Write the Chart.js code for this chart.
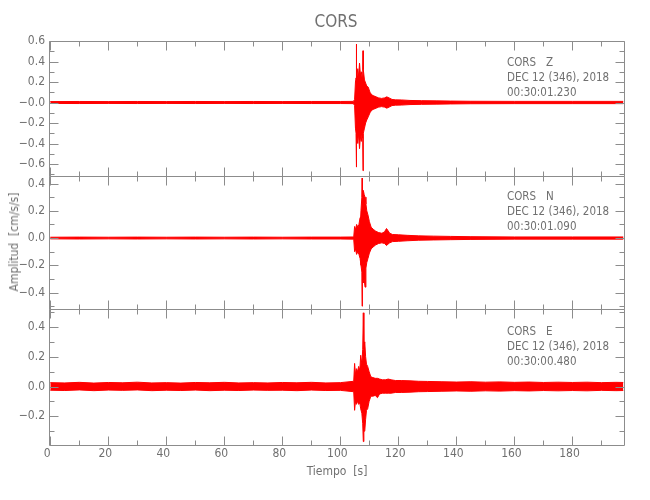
<!DOCTYPE html>
<html>
<head>
<meta charset="utf-8">
<script src="https://cdn.jsdelivr.net/npm/chart.js@4.4.1/dist/chart.umd.min.js"></script>
<style>
  html, body { margin: 0; padding: 0; background: #fff; }
  #wrap { position: relative; width: 650px; height: 500px; overflow: hidden; }
  #wrap canvas { position: absolute; left: 0; top: 0; }
  .t { position: absolute; color: #707070; font-family: 'Liberation Sans Narrow', 'DejaVu Sans Condensed', sans-serif; white-space: pre; line-height: 1; }
  .ann { font-size: 11.5px; line-height: 15px; }
</style>
</head>
<body>
<div id="wrap">
  <canvas id="c1" width="650" height="500"></canvas>
  <canvas id="c2" width="650" height="500"></canvas>
  <canvas id="c3" width="650" height="500"></canvas>
  <div class="t" style="left:0;top:13px;width:672px;text-align:center;font-size:17px;">CORS</div>
  <div class="t" style="left:14px;top:242px;font-size:12px;transform:translate(-50%,-50%) rotate(-90deg);">Amplitud  [cm/s/s]</div>
  <div class="t" style="left:0;top:465px;width:674px;text-align:center;font-size:12px;">Tiempo  [s]</div>
  <div class="t ann" style="left:507px;top:55px;">CORS   Z<br>DEC 12 (346), 2018<br>00:30:01.230</div>
  <div class="t ann" style="left:507px;top:189px;">CORS   N<br>DEC 12 (346), 2018<br>00:30:01.090</div>
  <div class="t ann" style="left:507px;top:324px;">CORS   E<br>DEC 12 (346), 2018<br>00:30:00.480</div>
</div>
<script>
// ---------- DATA ----------
const xTickVals   = [0, 20, 40, 60, 80, 100, 120, 140, 160, 180];
const xTickLabels = ['0', '20', '40', '60', '80', '100', '120', '140', '160', '180'];
const xMinorVals  = [10, 30, 50, 70, 90, 110, 130, 150, 170, 190];

const zTickVals   = [0.6, 0.4, 0.2, 0.0, -0.2, -0.4, -0.6];
const zTickLabels = ['0.6', '0.4', '0.2', '\u22120.0', '\u22120.2', '\u22120.4', '\u22120.6'];
const nTickVals   = [0.4, 0.2, 0.0, -0.2, -0.4];
const nTickLabels = ['0.4', '0.2', '0.0', '\u22120.2', '\u22120.4'];
const eTickVals   = [0.4, 0.2, 0.0, -0.2];
const eTickLabels = ['0.4', '0.2', '0.0', '\u22120.2'];

// Z component: time [s], upper and lower envelope [cm/s/s]
const zTime = [0, 10, 20, 30, 40, 50, 60, 70, 80, 90, 100, 104.5, 104.9, 105.2, 105.4, 105.5, 105.6, 106.0, 106.3, 106.6, 106.9, 107.2, 107.5, 107.7, 107.8, 107.9, 108.3, 108.7, 109.1, 109.6, 110.2, 110.8, 111.5, 112.3, 113.2, 114.2, 115.2, 116.0, 116.8, 117.8, 119, 121, 124, 128, 133, 138, 145, 160, 180, 197.6];
const zUpper = [0.009, 0.01, 0.009, 0.01, 0.009, 0.01, 0.009, 0.01, 0.009, 0.01, 0.01, 0.011, 0.03, 0.2, 0.24, 0.57, 0.22, 0.33, 0.25, 0.385, 0.27, 0.3, 0.24, 0.3, 0.505, 0.32, 0.22, 0.19, 0.16, 0.15, 0.1, 0.075, 0.065, 0.055, 0.045, 0.04, 0.045, 0.055, 0.045, 0.03, 0.026, 0.025, 0.02, 0.018, 0.016, 0.014, 0.012, 0.011, 0.011, 0.011];
const zLower = [-0.009, -0.01, -0.009, -0.01, -0.009, -0.01, -0.009, -0.01, -0.009, -0.01, -0.01, -0.011, -0.03, -0.25, -0.3, -0.63, -0.3, -0.4, -0.3, -0.45, -0.33, -0.38, -0.3, -0.35, -0.665, -0.3, -0.25, -0.2, -0.17, -0.14, -0.1, -0.075, -0.065, -0.055, -0.045, -0.04, -0.045, -0.055, -0.045, -0.03, -0.026, -0.025, -0.02, -0.018, -0.016, -0.014, -0.012, -0.011, -0.011, -0.011];

// N component
const nTime = [0, 10, 20, 30, 40, 50, 60, 70, 80, 90, 100, 104.6, 104.9, 105.2, 105.6, 106.0, 106.4, 106.8, 107.1, 107.4, 107.5, 107.6, 107.9, 108.2, 108.5, 108.8, 109.1, 109.5, 110.0, 110.6, 111.3, 112.2, 113.2, 114.3, 115.2, 115.9, 116.4, 117.0, 118, 120, 123, 127, 132, 138, 145, 160, 180, 197.6];
const nUpper = [0.006, 0.007, 0.006, 0.007, 0.006, 0.007, 0.006, 0.007, 0.006, 0.007, 0.007, 0.008, 0.085, 0.06, 0.1, 0.08, 0.1, 0.15, 0.2, 0.3, 0.44, 0.3, 0.35, 0.32, 0.3, 0.25, 0.2, 0.17, 0.12, 0.08, 0.065, 0.05, 0.04, 0.035, 0.045, 0.07, 0.055, 0.035, 0.026, 0.024, 0.02, 0.016, 0.014, 0.012, 0.01, 0.008, 0.008, 0.008];
const nLower = [-0.006, -0.007, -0.006, -0.007, -0.006, -0.007, -0.006, -0.007, -0.006, -0.007, -0.007, -0.008, -0.1, -0.08, -0.12, -0.1, -0.12, -0.15, -0.2, -0.25, -0.5, -0.3, -0.33, -0.3, -0.36, -0.22, -0.18, -0.15, -0.11, -0.08, -0.065, -0.05, -0.04, -0.035, -0.04, -0.055, -0.045, -0.035, -0.026, -0.024, -0.02, -0.016, -0.014, -0.012, -0.01, -0.008, -0.008, -0.008];

// E component
const eTime = [0, 5, 10, 15, 20, 25, 30, 35, 40, 45, 50, 55, 60, 65, 70, 75, 80, 85, 90, 95, 100, 104.6, 104.9, 105.2, 105.5, 105.9, 106.3, 106.7, 107.0, 107.4, 107.7, 107.9, 108.1, 108.4, 108.7, 109.0, 109.4, 109.9, 110.5, 111.2, 112.0, 112.8, 113.5, 114.5, 115.5, 116.5, 117.5, 119, 121, 124, 127, 130, 135, 140, 145, 150, 155, 160, 165, 170, 175, 180, 185, 190, 195, 197.6];
const eUpper = [0.026, 0.024, 0.028, 0.023, 0.027, 0.025, 0.029, 0.024, 0.026, 0.023, 0.027, 0.025, 0.028, 0.024, 0.026, 0.024, 0.027, 0.025, 0.028, 0.024, 0.026, 0.035, 0.155, 0.08, 0.12, 0.1, 0.135, 0.11, 0.21, 0.15, 0.25, 0.495, 0.25, 0.3, 0.2, 0.15, 0.135, 0.1, 0.065, 0.06, 0.055, 0.055, 0.05, 0.045, 0.045, 0.05, 0.045, 0.04, 0.04, 0.038, 0.035, 0.034, 0.032, 0.03, 0.032, 0.029, 0.031, 0.028, 0.03, 0.027, 0.029, 0.027, 0.029, 0.026, 0.028, 0.027];
const eLower = [-0.025, -0.027, -0.023, -0.028, -0.024, -0.026, -0.023, -0.028, -0.025, -0.027, -0.024, -0.028, -0.025, -0.027, -0.024, -0.026, -0.025, -0.028, -0.024, -0.027, -0.026, -0.035, -0.16, -0.1, -0.12, -0.1, -0.12, -0.11, -0.15, -0.18, -0.25, -0.37, -0.3, -0.3, -0.22, -0.16, -0.15, -0.1, -0.065, -0.065, -0.06, -0.075, -0.05, -0.045, -0.045, -0.045, -0.045, -0.04, -0.04, -0.038, -0.035, -0.034, -0.032, -0.03, -0.032, -0.029, -0.031, -0.028, -0.03, -0.027, -0.029, -0.027, -0.029, -0.026, -0.028, -0.027];

// ---------- CHART BUILDING ----------
const FONT = "'Liberation Sans Narrow', 'DejaVu Sans Condensed', sans-serif";
const TXT = '#707070';
const LINE = '#8c8c8c';
const RED = '#ff0000';
const X_MIN = -0.45, X_MAX = 197.6;

function pts(t, v) { return t.map((x, i) => ({ x: x, y: v[i] })); }

const framePlugin = {
  id: 'frame',
  afterDraw(chart) {
    const ctx = chart.ctx, a = chart.chartArea;
    const xs = chart.scales.x, ys = chart.scales.y;
    const yMaj = chart.options.plugins.frame.yMajor;
    const yMin = chart.options.plugins.frame.yMinor;
    ctx.save();
    ctx.strokeStyle = LINE;
    ctx.lineWidth = 1;
    const L = Math.round(a.left) + 0.5, R = Math.round(a.right) + 0.5;
    const T = Math.round(a.top) + 0.5, B = Math.round(a.bottom) + 0.5;
    ctx.beginPath();
    ctx.rect(L, T, R - L, B - T);
    ctx.stroke();
    ctx.beginPath();
    const xt = (v, len) => {
      const p = Math.round(xs.getPixelForValue(v)) + 0.5;
      ctx.moveTo(p, T); ctx.lineTo(p, T + len);
      ctx.moveTo(p, B); ctx.lineTo(p, B - len);
    };
    xTickVals.forEach(v => xt(v, 9));
    xMinorVals.forEach(v => xt(v, 5));
    const yt = (v, len) => {
      const p = Math.round(ys.getPixelForValue(v)) + 0.5;
      ctx.moveTo(L, p); ctx.lineTo(L + len, p);
      ctx.moveTo(R, p); ctx.lineTo(R - len, p);
    };
    yMaj.forEach(v => yt(v, 9));
    yMin.forEach(v => yt(v, 5));
    ctx.stroke();
    ctx.restore();
  }
};

function makeChart(id, time, up, lo, yMin, yMax, tickVals, tickLabels, minorVals, top, bottom, showX) {
  const cfg = {
    type: 'line',
    data: {
      datasets: [
        { data: pts(time, up), borderColor: RED, borderWidth: 1, pointRadius: 0, fill: false, tension: 0 },
        { data: pts(time, lo), borderColor: RED, borderWidth: 1, pointRadius: 0, fill: '-1', backgroundColor: RED, tension: 0 }
      ]
    },
    options: {
      responsive: false,
      animation: false,
      events: [],
      layout: { padding: { left: 0, right: 26.5, top: top, bottom: showX ? 500 - bottom - 20 : 500 - bottom } },
      plugins: {
        legend: { display: false },
        tooltip: { enabled: false },
        frame: { yMajor: tickVals, yMinor: minorVals }
      },
      scales: {
        x: {
          type: 'linear', min: X_MIN, max: X_MAX,
          display: showX,
          grid: { display: false, drawTicks: false },
          border: { display: false },
          afterFit: s => { s.height = showX ? 20 : 0; },
          afterBuildTicks: s => { s.ticks = xTickVals.map(v => ({ value: v })); },
          ticks: {
            padding: 2, color: TXT, labelOffset: -3, maxRotation: 0, autoSkip: false,
            font: { family: FONT, size: 12 },
            callback: (v, i) => xTickLabels[i]
          }
        },
        y: {
          type: 'linear', min: yMin, max: yMax,
          grid: { display: false, drawTicks: false },
          border: { display: false },
          afterFit: s => { s.width = 49; },
          afterBuildTicks: s => { s.ticks = tickVals.map(v => ({ value: v })); },
          ticks: {
            padding: 4, color: TXT, autoSkip: false,
            font: { family: FONT, size: 12 },
            callback: (v, i) => tickLabels[i]
          }
        }
      }
    },
    plugins: [framePlugin]
  };
  return new Chart(document.getElementById(id), cfg);
}

const zMinor = [0.5, 0.3, 0.1, -0.1, -0.3, -0.5, -0.7];
const nMinor = [0.3, 0.1, -0.1, -0.3, -0.5];
const eMinor = [0.5, 0.3, 0.1, -0.1, -0.3];

makeChart('c1', zTime, zUpper, zLower, -0.712, 0.6, zTickVals, zTickLabels, zMinor, 41, 175.5, false);
makeChart('c2', nTime, nUpper, nLower, -0.517, 0.459, nTickVals, nTickLabels, nMinor, 175.5, 308.5, false);
makeChart('c3', eTime, eUpper, eLower, -0.393, 0.524, eTickVals, eTickLabels, eMinor, 308.5, 445, true);
</script>
</body>
</html>
